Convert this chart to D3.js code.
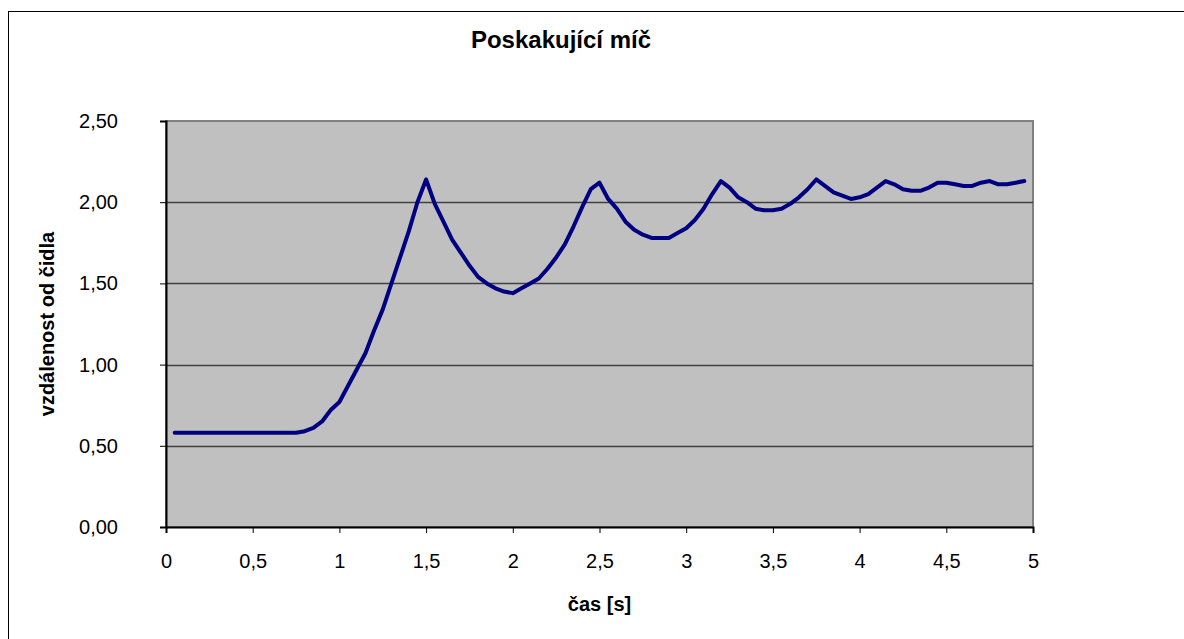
<!DOCTYPE html>
<html>
<head>
<meta charset="utf-8">
<script src="https://cdn.jsdelivr.net/npm/d3@7"></script>
<style>
  body { margin: 0; background: #fff; }
  svg { display: block; font-family: Arial, "Liberation Sans", sans-serif; }
  .axis text { font-size: 20px; fill: #000; }
  .axis line, .axis path { stroke: #000; }
  .title { font-size: 24px; font-weight: bold; }
  .axis-title { font-size: 20px; font-weight: bold; }
</style>
</head>
<body>
<svg id="chart"></svg>
<script>
// time in seconds, sampled every 0.05 s
const times = [
  0.05, 0.10, 0.15, 0.20, 0.25, 0.30, 0.35, 0.40, 0.45, 0.50,
  0.55, 0.60, 0.65, 0.70, 0.75, 0.80, 0.85, 0.90, 0.95, 1.00,
  1.05, 1.10, 1.15, 1.20, 1.25, 1.30, 1.35, 1.40, 1.45, 1.50,
  1.55, 1.60, 1.65, 1.70, 1.75, 1.80, 1.85, 1.90, 1.95, 2.00,
  2.05, 2.10, 2.15, 2.20, 2.25, 2.30, 2.35, 2.40, 2.45, 2.50,
  2.55, 2.60, 2.65, 2.70, 2.75, 2.80, 2.85, 2.90, 2.95, 3.00,
  3.05, 3.10, 3.15, 3.20, 3.25, 3.30, 3.35, 3.40, 3.45, 3.50,
  3.55, 3.60, 3.65, 3.70, 3.75, 3.80, 3.85, 3.90, 3.95, 4.00,
  4.05, 4.10, 4.15, 4.20, 4.25, 4.30, 4.35, 4.40, 4.45, 4.50,
  4.55, 4.60, 4.65, 4.70, 4.75, 4.80, 4.85, 4.90, 4.95
];

// distance from the sensor
const distances = [
  0.58, 0.58, 0.58, 0.58, 0.58, 0.58, 0.58, 0.58, 0.58, 0.58,
  0.58, 0.58, 0.58, 0.58, 0.58, 0.59, 0.61, 0.65, 0.72, 0.77,
  0.87, 0.97, 1.07, 1.21, 1.34, 1.50, 1.66, 1.82, 2.00, 2.14,
  1.99, 1.88, 1.77, 1.69, 1.61, 1.54, 1.50, 1.47, 1.45, 1.44,
  1.47, 1.50, 1.53, 1.59, 1.66, 1.74, 1.85, 1.97, 2.08, 2.12,
  2.02, 1.96, 1.88, 1.83, 1.80, 1.78, 1.78, 1.78, 1.81, 1.84,
  1.89, 1.96, 2.05, 2.13, 2.09, 2.03, 2.00, 1.96, 1.95, 1.95,
  1.96, 1.99, 2.03, 2.08, 2.14, 2.10, 2.06, 2.04, 2.02, 2.03,
  2.05, 2.09, 2.13, 2.11, 2.08, 2.07, 2.07, 2.09, 2.12, 2.12,
  2.11, 2.10, 2.10, 2.12, 2.13, 2.11, 2.11, 2.12, 2.13
];

const xTicks = [0, 0.5, 1, 1.5, 2, 2.5, 3, 3.5, 4, 4.5, 5];
const yTicks = [0, 0.5, 1, 1.5, 2, 2.5];

const chartTitle = 'Poskakující míč';
const xTitle = 'čas [s]';
const yTitle = 'vzdálenost od čidla';

const width = 1184, height = 639;
const margin = {top: 121, right: 151, bottom: 112, left: 166};
const innerW = width - margin.left - margin.right;
const innerH = height - margin.top - margin.bottom;

const data = times.map((t, i) => ({t: t, d: distances[i]}));

const svg = d3.select('#chart')
    .attr('width', width)
    .attr('height', height);

// outer chart border (runs off the right and bottom edges)
svg.append('rect')
    .attr('x', 8.5)
    .attr('y', 11.5)
    .attr('width', 1300)
    .attr('height', 700)
    .attr('fill', '#fff')
    .attr('stroke', '#000')
    .attr('stroke-width', 1);

const chart = svg.append('g')
    .attr('transform', `translate(${margin.left},${margin.top})`);

const xScale = d3.scaleLinear().domain([0, 5]).range([0, innerW]);
const yScale = d3.scaleLinear().domain([0, 2.5]).range([innerH, 0]);

const comma = f => (v => d3.format(f)(v).replace('.', ','));

// plot area background
chart.append('rect')
    .attr('width', innerW)
    .attr('height', innerH)
    .attr('fill', '#c0c0c0')
    .attr('stroke', '#808080')
    .attr('stroke-width', 2);

// horizontal gridlines
chart.append('g')
    .selectAll('line')
    .data(yTicks.filter(d => d > 0 && d < 2.5))
  .join('line')
    .attr('x1', 0)
    .attr('x2', innerW)
    .attr('y1', d => Math.round(yScale(d)) + 0.5)
    .attr('y2', d => Math.round(yScale(d)) + 0.5)
    .attr('stroke', '#404040')
    .attr('stroke-width', 1.5);

const xAxis = d3.axisBottom(xScale)
    .tickValues(xTicks)
    .tickSize(6)
    .tickPadding(14)
    .tickFormat(d => String(d).replace('.', ','));

const yAxis = d3.axisLeft(yScale)
    .tickValues(yTicks)
    .tickSize(6)
    .tickPadding(36)
    .tickFormat(comma('.2f'));

chart.append('g')
    .attr('class', 'axis x-axis')
    .attr('transform', `translate(0,${innerH})`)
    .call(xAxis)
    .call(g => g.select('.domain').attr('stroke-width', 2))
    .call(g => g.selectAll('.tick text').attr('dy', '1.05em'));

chart.append('g')
    .attr('class', 'axis y-axis')
    .call(yAxis)
    .call(g => g.select('.domain').attr('stroke-width', 2))
    .call(g => g.selectAll('.tick text').attr('x', -48).attr('text-anchor', 'end'));

// the measured curve
const line = d3.line()
    .x(d => xScale(d.t))
    .y(d => yScale(d.d));

chart.append('path')
    .datum(data)
    .attr('fill', 'none')
    .attr('stroke', '#000080')
    .attr('stroke-width', 4)
    .attr('stroke-linejoin', 'round')
    .attr('stroke-linecap', 'round')
    .attr('d', line);

// titles
svg.append('text')
    .attr('class', 'title')
    .attr('x', 561)
    .attr('y', 48)
    .attr('text-anchor', 'middle')
    .text(chartTitle);

svg.append('text')
    .attr('class', 'axis-title')
    .attr('x', margin.left + innerW / 2)
    .attr('y', 611)
    .attr('text-anchor', 'middle')
    .text(xTitle);

svg.append('text')
    .attr('class', 'axis-title')
    .attr('transform', `translate(54,${margin.top + innerH / 2}) rotate(-90)`)
    .attr('text-anchor', 'middle')
    .text(yTitle);
</script>
</body>
</html>
